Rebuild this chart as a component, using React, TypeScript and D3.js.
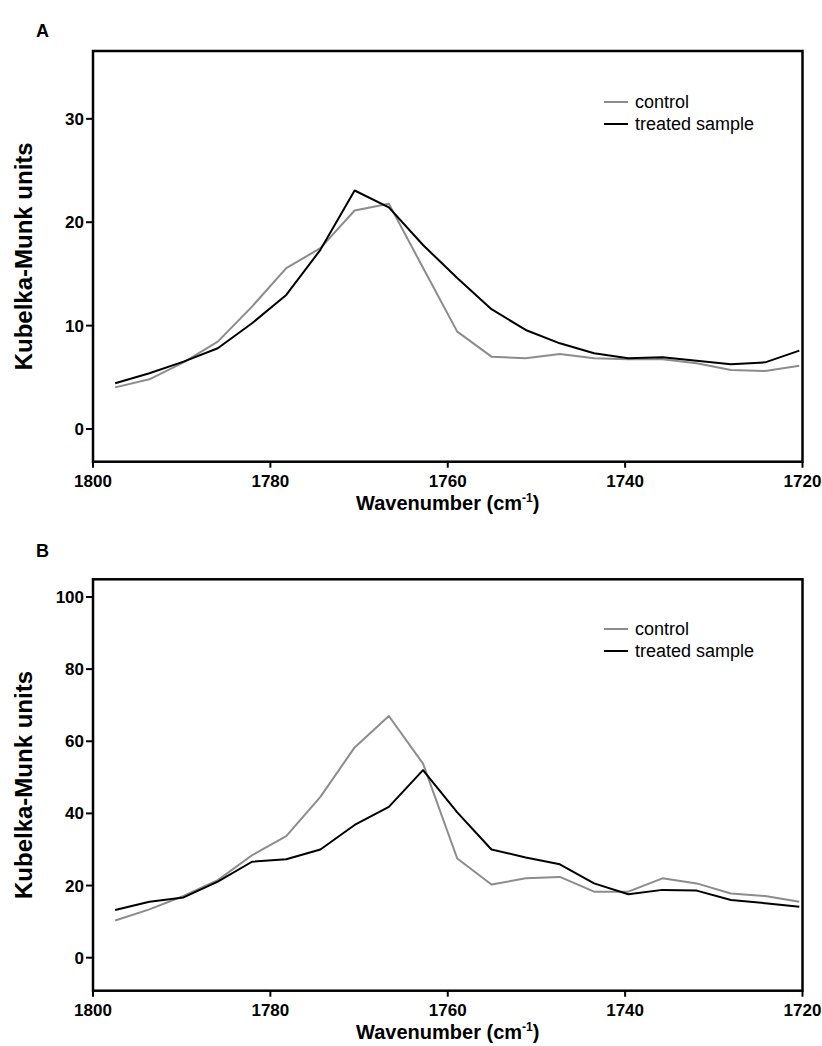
import React from "react";
import * as d3 from "d3";

const wavenumbers = [1797.5, 1793.64, 1789.79, 1785.93, 1782.07, 1778.21, 1774.36, 1770.5, 1766.64, 1762.79, 1758.93, 1755.07, 1751.21, 1747.36, 1743.5, 1739.64, 1735.79, 1731.93, 1728.07, 1724.21, 1720.36];

const controlA = [4.03, 4.81, 6.45, 8.45, 11.84, 15.56, 17.49, 21.13, 21.78, 15.6, 9.42, 7.0, 6.84, 7.26, 6.84, 6.74, 6.74, 6.36, 5.71, 5.61, 6.13];
const treatedA = [4.42, 5.39, 6.52, 7.81, 10.23, 12.97, 17.33, 23.07, 21.43, 17.8, 14.6, 11.59, 9.58, 8.29, 7.33, 6.84, 6.94, 6.61, 6.26, 6.45, 7.58];

const controlB = [10.3, 13.4, 17.1, 21.5, 28.4, 33.7, 44.6, 58.3, 67.0, 53.8, 27.5, 20.3, 22.0, 22.4, 18.3, 18.3, 22.0, 20.6, 17.8, 17.1, 15.5];
const treatedB = [13.2, 15.5, 16.7, 21.1, 26.6, 27.3, 30.0, 36.8, 41.8, 52.0, 40.3, 30.0, 27.8, 25.9, 20.6, 17.6, 18.8, 18.6, 16.0, 15.1, 14.1];

const xTicks = [1800, 1780, 1760, 1740, 1720];
const yTicksA = [0, 10, 20, 30];
const yTicksB = [0, 20, 40, 60, 80, 100];
const seriesNames = ["control", "treated sample"];
const seriesColors = ["#8c8c8c", "#000000"];

const FONT = "'Liberation Sans', Arial, sans-serif";

type PanelProps = {
  letter: string;
  top: number;
  bottom: number;
  yDomain: [number, number];
  yTicks: number[];
  control: number[];
  treated: number[];
  legendY: number;
  letterY: number;
};

const LEFT = 93;
const RIGHT = 802.5;

function Panel(p: PanelProps) {
  const x = d3.scaleLinear().domain([1800, 1720]).range([LEFT, RIGHT]);
  const y = d3.scaleLinear().domain(p.yDomain).range([p.bottom, p.top]);
  const line = d3
    .line<number>()
    .x((_, i) => x(wavenumbers[i]))
    .y((d) => y(d));
  const series = [p.control, p.treated];
  const midY = (p.top + p.bottom) / 2;
  return (
    <g>
      <text x={36} y={p.letterY} fontFamily={FONT} fontWeight="bold" fontSize={18}>
        {p.letter}
      </text>
      {series.map((s, k) => (
        <path key={k} d={line(s) || ""} fill="none" stroke={seriesColors[k]} strokeWidth={2} strokeLinejoin="round" />
      ))}
      <rect x={LEFT} y={p.top} width={RIGHT - LEFT} height={p.bottom - p.top} fill="none" stroke="#000" strokeWidth={2.5} />
      {p.yTicks.map((t) => (
        <g key={t}>
          <line x1={LEFT - 7} x2={LEFT} y1={y(t)} y2={y(t)} stroke="#000" strokeWidth={2} />
          <text x={LEFT - 9} y={y(t) + 6} textAnchor="end" fontFamily={FONT} fontWeight="bold" fontSize={17}>
            {t}
          </text>
        </g>
      ))}
      {xTicks.map((t) => (
        <g key={t}>
          <line x1={x(t)} x2={x(t)} y1={p.bottom} y2={p.bottom + 6} stroke="#000" strokeWidth={2} />
          <text x={x(t)} y={p.bottom + 25} textAnchor="middle" fontFamily={FONT} fontWeight="bold" fontSize={17}>
            {t}
          </text>
        </g>
      ))}
      <text x={(LEFT + RIGHT) / 2} y={p.bottom + 48} textAnchor="middle" fontFamily={FONT} fontWeight="bold" fontSize={20}>
        Wavenumber (cm<tspan dy={-8} fontSize={12}>-1</tspan>
        <tspan dy={8}>)</tspan>
      </text>
      <text
        transform={`translate(32, ${midY}) rotate(-90)`}
        textAnchor="middle"
        fontFamily={FONT}
        fontWeight="bold"
        fontSize={24}
      >
        Kubelka-Munk units
      </text>
      {seriesNames.map((n, k) => (
        <g key={n}>
          <line x1={604} x2={628} y1={p.legendY + k * 22} y2={p.legendY + k * 22} stroke={seriesColors[k]} strokeWidth={2} />
          <text x={635} y={p.legendY + k * 22 + 6} fontFamily={FONT} fontSize={18}>
            {n}
          </text>
        </g>
      ))}
    </g>
  );
}

export default function App() {
  return (
    <svg width={822} height={1046} style={{ position: "absolute", left: 0, top: 0, background: "#fff" }}>
      <rect width={822} height={1046} fill="#fff" />
      <Panel
        letter="A"
        top={51}
        bottom={461.7}
        yDomain={[-3.16, 36.56]}
        yTicks={yTicksA}
        control={controlA}
        treated={treatedA}
        legendY={102}
        letterY={37}
      />
      <Panel
        letter="B"
        top={579.3}
        bottom={990.7}
        yDomain={[-9.15, 104.9]}
        yTicks={yTicksB}
        control={controlB}
        treated={treatedB}
        legendY={629}
        letterY={557}
      />
    </svg>
  );
}
